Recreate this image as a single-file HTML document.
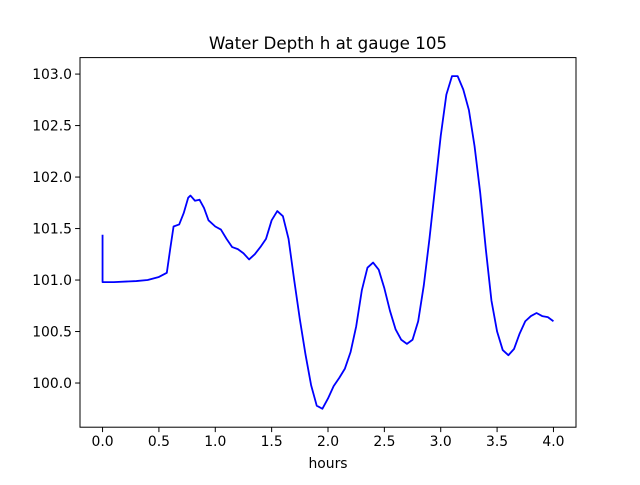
<!DOCTYPE html>
<html><head><meta charset="utf-8"><style>
body{margin:0;background:#fff}
svg text{font-family:"DejaVu Sans","Liberation Sans",sans-serif;fill:#000}
</style></head><body>
<svg id="chart" width="640" height="480" viewBox="0 0 640 480">
<rect width="640" height="480" fill="#fff"/>
<text x="328" y="49" font-size="16.7" text-anchor="middle">Water Depth h at gauge 105</text>
<g id="plot"></g>
<text x="328" y="468" font-size="13.9" text-anchor="middle">hours</text>
</svg>
<script>
const times=[0,0,0.1,0.3,0.4,0.5,0.57,0.6,0.63,0.68,0.72,0.76,0.78,0.82,0.86,0.9,0.94,1.0,1.05,1.1,1.15,1.2,1.25,1.3,1.35,1.4,1.45,1.5,1.55,1.6,1.65,1.7,1.75,1.8,1.85,1.9,1.95,2.0,2.05,2.1,2.15,2.2,2.25,2.3,2.35,2.4,2.45,2.5,2.55,2.6,2.65,2.7,2.75,2.8,2.85,2.9,2.95,3.0,3.05,3.1,3.15,3.2,3.25,3.3,3.35,3.4,3.45,3.5,3.55,3.6,3.65,3.7,3.75,3.8,3.85,3.9,3.95,4.0];
const depth=[101.44,100.98,100.98,100.99,101.0,101.03,101.07,101.3,101.52,101.54,101.65,101.8,101.82,101.77,101.78,101.7,101.58,101.52,101.49,101.4,101.32,101.3,101.26,101.2,101.25,101.32,101.4,101.58,101.67,101.62,101.4,101.0,100.62,100.28,99.98,99.78,99.75,99.85,99.97,100.05,100.14,100.3,100.55,100.9,101.12,101.17,101.1,100.92,100.7,100.52,100.42,100.38,100.42,100.6,100.95,101.4,101.9,102.4,102.8,102.98,102.98,102.85,102.65,102.3,101.85,101.3,100.8,100.5,100.32,100.27,100.33,100.48,100.6,100.65,100.68,100.65,100.64,100.6];
const xTicks=[0,0.5,1,1.5,2,2.5,3,3.5,4];
const xTickLabels=["0.0","0.5","1.0","1.5","2.0","2.5","3.0","3.5","4.0"];
const yTicks=[100,100.5,101,101.5,102,102.5,103];
const yTickLabels=["100.0","100.5","101.0","101.5","102.0","102.5","103.0"];
const L=80,R=576,T=57.6,B=427.2;
const xmin=-0.2,xmax=4.2,ymin=99.571,ymax=103.16;
const X=v=>L+(v-xmin)/(xmax-xmin)*(R-L);
const Y=v=>B-(v-ymin)/(ymax-ymin)*(B-T);
const NS="http://www.w3.org/2000/svg";
const g=document.getElementById('plot');
function mk(t,a){const e=document.createElementNS(NS,t);for(const k in a)e.setAttribute(k,a[k]);g.appendChild(e);return e;}
let d="";
times.forEach((t,i)=>{d+=(i?"L":"M")+X(t).toFixed(2)+","+Y(depth[i]).toFixed(2);});
const line=mk('path',{d:d,fill:'none',stroke:'#0000ff','stroke-width':1.8,'stroke-linejoin':'round'});


const frame=mk('rect',{x:L,y:T,width:R-L,height:B-T,fill:'none',stroke:'#000','stroke-width':1});


xTicks.forEach((v,i)=>{
 const tk=mk('line',{x1:X(v),x2:X(v),y1:B,y2:B+4.9,stroke:'#000','stroke-width':1});
 
 
 const tx=mk('text',{x:X(v),y:B+19,'font-size':13.9,'text-anchor':'middle'});
 tx.textContent=xTickLabels[i];
 
 
});
yTicks.forEach((v,i)=>{
 const tk=mk('line',{x1:L-4.9,x2:L,y1:Y(v),y2:Y(v),stroke:'#000','stroke-width':1});
 
 
 const tx=mk('text',{x:L-8,y:Y(v)+5,'font-size':13.9,'text-anchor':'end'});
 tx.textContent=yTickLabels[i];
 
 
});
</script>
</body></html>
